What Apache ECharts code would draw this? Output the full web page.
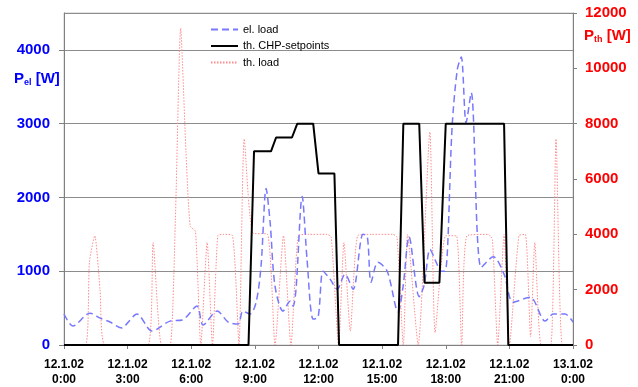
<!DOCTYPE html>
<html>
<head>
<meta charset="utf-8">
<script src="https://cdn.jsdelivr.net/npm/echarts@6/dist/echarts.min.js"></script>
<style>
    html, body { margin: 0; padding: 0; background: #fff; }
    #chart { width: 638px; height: 387px; }
</style>
</head>
<body>
<div id="chart"></div>
<script>
// x axis tick labels, one every 3 hours
const xLabels = ['12.1.02\n0:00', '12.1.02\n3:00', '12.1.02\n6:00', '12.1.02\n9:00', '12.1.02\n12:00',
    '12.1.02\n15:00', '12.1.02\n18:00', '12.1.02\n21:00', '13.1.02\n0:00'];

// el. load [hour, W] (left axis)
const elLoad = [
    [0, 420], [0.42, 257], [1.23, 432], [1.7, 365], [2.17, 311], [2.74, 230], [3.0, 300], [3.44, 419],
    [4.15, 189], [4.39, 216], [5.0, 324], [5.57, 338], [6.27, 527], [6.56, 270], [7.22, 460],
    [7.74, 311], [8.2, 284], [8.44, 460], [8.77, 419], [9.06, 581], [9.29, 1067], [9.53, 2120],
    [9.72, 1660], [9.95, 797], [10.33, 460], [10.66, 594], [10.8, 527], [10.94, 756], [11.23, 2013],
    [11.46, 1161], [11.75, 351], [11.98, 378], [12.22, 1000], [12.55, 892], [12.88, 756], [13.25, 959],
    [13.63, 756], [14.1, 1500], [14.3, 1472], [14.48, 851], [14.8, 1121], [15.24, 1000], [15.75, 450],
    [15.99, 797], [16.27, 1465], [16.75, 655], [16.98, 810], [17.26, 1297], [17.55, 1121], [17.78, 1000],
    [17.97, 1000], [18.3, 2959], [18.54, 3726], [18.73, 3904], [18.96, 3013], [19.2, 3420], [19.67, 1050],
    [20.24, 1195], [20.75, 960], [21.18, 581], [21.98, 648], [22.69, 324], [23.07, 419], [23.63, 419],
    [24, 311]
];

// th. CHP-setpoints [hour, W] (right axis)
const chpSetpoints = [
    [0, 0], [8.7, 0], [8.96, 7000], [9.76, 7000], [10.0, 7500], [10.75, 7500], [11.0, 8000], [11.75, 8000],
    [12.0, 6200], [12.75, 6200], [12.97, 0], [15.75, 0], [16.0, 8000], [16.75, 8000], [17.0, 2250],
    [17.7, 2250], [18.0, 8000], [20.75, 8000], [20.95, 0], [24, 0]
];

// th. load [hour, W] (right axis)
const thLoad = [
    [0, 0], [1.0, 0], [1.2, 3000], [1.45, 3950], [1.7, 2000], [1.95, 0],
    [3.95, 0], [4.2, 3700], [4.6, 0],
    [5.0, 0], [5.25, 4500], [5.5, 11450], [5.75, 7000], [5.95, 4300], [6.2, 4100], [6.45, 0],
    [6.75, 3700], [7.0, 0], [7.25, 3950], [7.5, 4000], [7.95, 3950], [8.25, 0],
    [8.5, 7450], [8.9, 4050], [9.6, 4000], [9.95, 0],
    [10.35, 3950], [10.7, 0],
    [11.05, 3950], [11.5, 4000], [12.4, 4000], [12.6, 3900], [12.95, 0],
    [13.2, 3700], [13.5, 500],
    [13.85, 3950], [14.5, 4000], [15.5, 4000], [15.7, 3900], [16.0, 0],
    [16.2, 4000], [16.7, 0],
    [17.25, 7700], [17.5, 450],
    [18.0, 3950], [18.5, 3950], [18.75, 0],
    [19.0, 3950], [20.0, 4000], [20.2, 3800], [20.45, 0],
    [20.75, 4000], [21.0, 0],
    [21.45, 3950], [21.75, 4000], [22.0, 300],
    [22.2, 3700], [22.5, 0],
    [22.95, 0], [23.2, 7450], [23.5, 0], [24, 0]
];

const BLUE = '#0000ff';
const RED = '#ff0000';
const FONT = 'Liberation Sans, Arial, sans-serif';

const chart = echarts.init(document.getElementById('chart'));

chart.setOption({
    animation: false,
    backgroundColor: '#fff',
    grid: { left: 64, right: 65, top: 13, bottom: 41, show: true, borderColor: '#c8c8c8', borderWidth: 1 },
    legend: {
        orient: 'vertical',
        left: 205,
        top: 18,
        itemWidth: 27,
        itemHeight: 13,
        itemGap: 3.5,
        itemStyle: { opacity: 0 },
        textStyle: { fontFamily: FONT, fontSize: 11, color: '#000', lineHeight: 13 },
        data: ['el. load', 'th. CHP-setpoints', 'th. load']
    },
    graphic: [
        {
            type: 'text', left: 14, top: 71,
            style: {
                text: '{p|P}{s|el}{p| [W]}',
                fill: BLUE,
                rich: {
                    p: { fontFamily: FONT, fontSize: 15, fontWeight: 'bold', lineHeight: 18, fill: BLUE },
                    s: { fontFamily: FONT, fontSize: 9, fontWeight: 'bold', lineHeight: 10, verticalAlign: 'bottom', fill: BLUE }
                }
            }
        },
        {
            type: 'text', left: 584, top: 28,
            style: {
                text: '{p|P}{s|th}{p| [W]}',
                fill: RED,
                rich: {
                    p: { fontFamily: FONT, fontSize: 15, fontWeight: 'bold', lineHeight: 18, fill: RED },
                    s: { fontFamily: FONT, fontSize: 9, fontWeight: 'bold', lineHeight: 10, verticalAlign: 'bottom', fill: RED }
                }
            }
        }
    ],
    xAxis: {
        type: 'value',
        min: 0,
        max: 24,
        interval: 3,
        axisLine: { show: true, lineStyle: { color: '#808080', width: 1 } },
        axisTick: { show: true, length: 4, lineStyle: { color: '#808080' } },
        splitLine: { show: false },
        axisLabel: {
            margin: 12,
            fontFamily: FONT,
            fontSize: 12,
            fontWeight: 'bold',
            lineHeight: 15,
            color: '#000',
            formatter: v => xLabels[Math.round(v / 3)]
        }
    },
    yAxis: [
        {
            type: 'value',
            min: 0,
            max: 4500,
            interval: 1000,
            position: 'left',
            axisLine: { show: true, lineStyle: { color: '#808080' } },
            axisTick: { show: true, length: 5, lineStyle: { color: '#808080' } },
            splitLine: { show: true, lineStyle: { color: '#8c8c8c', width: 1.2 } },
            axisLabel: {
                margin: 14, showMaxLabel: false,
                fontFamily: FONT, fontSize: 15, fontWeight: 'bold', color: BLUE,
                formatter: v => String(v)
            }
        },
        {
            type: 'value',
            min: 0,
            max: 12000,
            interval: 2000,
            position: 'right',
            axisLine: { show: true, lineStyle: { color: '#808080' } },
            axisTick: { show: true, length: 4, lineStyle: { color: '#808080' } },
            splitLine: { show: false },
            axisLabel: {
                margin: 12,
                fontFamily: FONT, fontSize: 15, fontWeight: 'bold', color: RED,
                formatter: v => String(v)
            }
        }
    ],
    series: [
        {
            name: 'el. load',
            type: 'line',
            yAxisIndex: 0,
            data: elLoad,
            symbol: 'none',
            smooth: 0.3,
            z: 3,
            itemStyle: { color: '#7878ff' },
            lineStyle: { color: '#7878ff', width: 1.5, type: [7, 4] }
        },
        {
            name: 'th. CHP-setpoints',
            type: 'line',
            yAxisIndex: 1,
            data: chpSetpoints,
            symbol: 'none',
            z: 5,
            itemStyle: { color: '#000' },
            lineStyle: { color: '#000', width: 2 }
        },
        {
            name: 'th. load',
            type: 'line',
            yAxisIndex: 1,
            data: thLoad,
            symbol: 'none',
            smooth: 0.2,
            z: 2,
            itemStyle: { color: '#ff8c8c' },
            lineStyle: { color: '#ff8c8c', width: 1, type: [1.5, 1.5] }
        }
    ]
});
</script>
</body>
</html>
